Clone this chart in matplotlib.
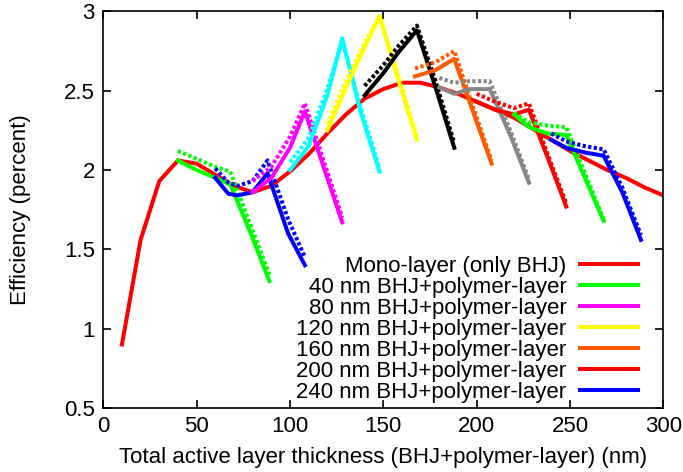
import numpy as np
import matplotlib.pyplot as plt

plt.rcParams['font.family'] = ['Liberation Sans', 'DejaVu Sans']

# mono-layer (only BHJ)
mono_x = [10, 20, 30, 40, 50, 60, 70, 80, 90, 100, 110, 120, 130, 140, 150,
          160, 170, 180, 190, 200, 210, 220, 230, 240, 250, 260, 270, 280, 290, 300]
mono_y = [0.90, 1.56, 1.93, 2.06, 2.04, 1.97, 1.90, 1.86, 1.90, 1.99, 2.10, 2.23, 2.35, 2.45, 2.51,
          2.55, 2.55, 2.52, 2.48, 2.43, 2.38, 2.33, 2.26, 2.19, 2.12, 2.06, 2.00, 1.95, 1.89, 1.84]

# double-layer series: x, solid, dotted
b40_x = [40, 50, 60, 68, 79, 89]
b40_solid = [2.06, 2.00, 1.95, 1.91, 1.60, 1.30]
b40_dot = [2.12, 2.07, 2.02, 1.99, 1.65, 1.34]

b60_x = [60, 67, 72, 80, 88, 99, 108]
b60_solid = [1.95, 1.85, 1.84, 1.86, 1.98, 1.60, 1.40]
b60_dot = [2.01, 1.92, 1.90, 1.93, 2.06, 1.69, 1.45]

b80_x = [80, 90, 100, 108, 118, 128]
b80_solid = [1.86, 1.95, 2.14, 2.37, 2.02, 1.67]
b80_dot = [1.93, 2.02, 2.21, 2.42, 2.06, 1.70]

b100_x = [100, 110, 120, 128, 138, 148]
b100_solid = [2.00, 2.15, 2.47, 2.83, 2.36, 1.99]
b100_dot = [2.05, 2.20, 2.51, 2.81, 2.39, 2.01]

b120_x = [120, 130, 139, 148, 158, 168]
b120_solid = [2.25, 2.52, 2.75, 2.97, 2.57, 2.19]
b120_dot = [2.29, 2.56, 2.78, 2.97, 2.60, 2.21]

b140_x = [140, 150, 158, 168, 178, 188]
b140_solid = [2.47, 2.61, 2.74, 2.88, 2.52, 2.14]
b140_dot = [2.53, 2.66, 2.78, 2.91, 2.56, 2.17]

b160_x = [167, 178, 188, 198, 208]
b160_solid = [2.59, 2.63, 2.70, 2.37, 2.04]
b160_dot = [2.64, 2.68, 2.75, 2.40, 2.06]

b180_x = [180, 188, 196, 207, 218, 228]
b180_solid = [2.52, 2.48, 2.51, 2.51, 2.22, 1.92]
b180_dot = [2.58, 2.55, 2.56, 2.56, 2.25, 1.94]

b200_x = [200, 210, 220, 228, 238, 248]
b200_solid = [2.43, 2.38, 2.35, 2.38, 2.08, 1.77]
b200_dot = [2.48, 2.43, 2.39, 2.42, 2.10, 1.79]

b220_x = [220, 228, 238, 248, 258, 268]
b220_solid = [2.35, 2.27, 2.23, 2.22, 1.95, 1.68]
b220_dot = [2.36, 2.30, 2.28, 2.27, 1.98, 1.69]

b240_x = [240, 248, 258, 268, 278, 288]
b240_solid = [2.19, 2.14, 2.11, 2.09, 1.86, 1.56]
b240_dot = [2.23, 2.18, 2.15, 2.13, 1.89, 1.59]

groups = [
    (b40_x, b40_solid, b40_dot, '#00ff00', '40 nm BHJ+polymer-layer'),
    (b60_x, b60_solid, b60_dot, '#0000ff', None),
    (b80_x, b80_solid, b80_dot, '#ff00ff', '80 nm BHJ+polymer-layer'),
    (b100_x, b100_solid, b100_dot, '#00ffff', None),
    (b120_x, b120_solid, b120_dot, '#ffff00', '120 nm BHJ+polymer-layer'),
    (b140_x, b140_solid, b140_dot, '#000000', None),
    (b160_x, b160_solid, b160_dot, '#ff5a00', '160 nm BHJ+polymer-layer'),
    (b180_x, b180_solid, b180_dot, '#888888', None),
    (b200_x, b200_solid, b200_dot, '#ff0000', '200 nm BHJ+polymer-layer'),
    (b220_x, b220_solid, b220_dot, '#00ff00', None),
    (b240_x, b240_solid, b240_dot, '#0000ff', '240 nm BHJ+polymer-layer'),
]

fig = plt.figure(figsize=(6.83, 4.72), dpi=100)
ax = fig.add_axes([0.1512, 0.1356, 0.82, 0.8404])

lw = 2.9
handles = []
h, = ax.plot(mono_x, mono_y, color='#ff0000', lw=lw, label='Mono-layer (only BHJ)')
handles.append(h)
for xs, ys, yd, c, lab in groups:
    h, = ax.plot(xs, ys, color=c, lw=lw, label=lab)
    ax.plot(xs, yd, color=c, lw=lw, linestyle=(0, (0.8, 0.6)), dash_capstyle='butt')
    if lab:
        handles.append(h)

ax.set_xlim(0, 300)
ax.set_ylim(0.5, 3)
ax.set_xticks([0, 50, 100, 150, 200, 250, 300])
ax.set_yticks([0.5, 1, 1.5, 2, 2.5, 3])
ax.set_yticklabels(['0.5', '1', '1.5', '2', '2.5', '3'])
ax.tick_params(direction='in', length=6, width=1.2, top=True, right=True,
               labelsize=16, pad=6)
for s in ax.spines.values():
    s.set_linewidth(1.2)

ax.set_xlabel('Total active layer thickness (BHJ+polymer-layer) (nm)', fontsize=16, labelpad=7)
ax.set_ylabel('Efficiency (percent)', fontsize=16, labelpad=24)

ax.legend(handles=handles, loc='lower right', frameon=False, markerfirst=False,
          fontsize=16, handlelength=2.6, handletextpad=0.6, labelspacing=0.0,
          borderaxespad=0.0, bbox_to_anchor=(0.97, -0.01))

plt.savefig('out.png', dpi=100)
